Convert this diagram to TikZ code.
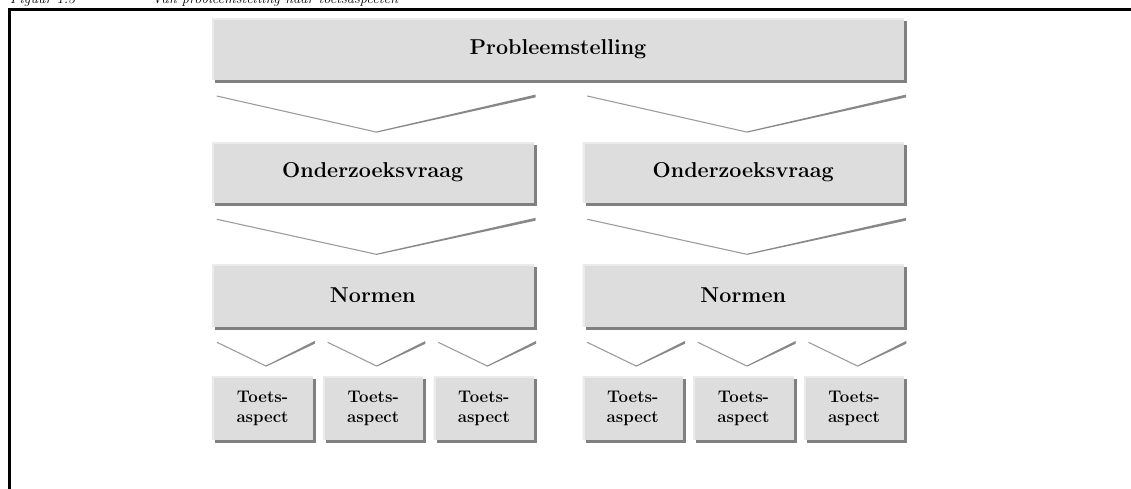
\documentclass[tikz,border=0pt]{standalone}
\usepackage{fontspec}
\usetikzlibrary{calc}

\definecolor{boxfill}{HTML}{DDDDDD}
\definecolor{boxshade}{HTML}{808080}
\definecolor{boxlight}{HTML}{EBEBEB}
\definecolor{armlight}{HTML}{9C9C9C}
\definecolor{armdark}{HTML}{888888}

\tikzset{
  stepbox/.style={rectangle, fill=boxfill, inner sep=0pt, outer sep=0pt, text=black,
    align=center,
    preaction={fill=boxshade, transform canvas={shift={(3pt,-3pt)}}},
    path picture={\draw[boxlight, line width=4pt]
      (path picture bounding box.south west) |- (path picture bounding box.north east);}},
  widebox/.style={stepbox, font=\fontsize{21.5}{24}\selectfont\bfseries},
  smallbox/.style={stepbox, minimum width=100.5pt, minimum height=64pt,
    font=\fontsize{16.8}{20}\selectfont\bfseries},
  armthin/.style={armlight, line width=1.1pt},
  armthick/.style={armdark},
  captext/.style={anchor=base west, inner sep=0pt, font=\fontsize{14.5}{16}\selectfont\itshape},
}

% chevron above a target node: #1 name, #2 target, #3 rise of the arms above it, #4 depth
\newcommand\chevron[4]{%
  \coordinate (#1l) at ($(#2.north west)+(4.7,-#3)$);
  \coordinate (#1r) at ($(#2.north east)+(2,-#3)$);
  \coordinate (#1v) at ($(#1l)!0.5!(#1r)+(0,#4)$);
  \draw[armthin] (#1l) -- (#1v);
  \fill[armthick] ($(#1v)+(0,-0.4)$) -- ($(#1r)+(0,-1.4)$) -- ($(#1r)+(0,1.4)$) -- ($(#1v)+(0,0.7)$) -- cycle;
}

\begin{document}
\begin{tikzpicture}[x=1pt, y=-1pt]
  \useasboundingbox (0,0) rectangle (1131,488);
  \clip (0,0) rectangle (1131,488);

  % caption line above the frame
  \node[captext] (capa) at (10,3) {Figuur 1.3};
  \node[captext] (capb) at (152,3) {Van probleemstelling naar toetsaspecten};

  % frame
  \draw[line width=2.4pt] (9.5,490) -- (9.5,9.5) -- (1135,9.5);

  % top level
  \node[widebox, minimum width=692pt, minimum height=62pt] (prob) at (558,49) {Probleemstelling};

  % research questions
  \node[widebox, minimum width=321.5pt, minimum height=61pt] (oz1) at (372.75,172.5) {Onderzoeksvraag};
  \node[widebox, minimum width=321.5pt, minimum height=61pt] (oz2) at (743.25,172.5) {Onderzoeksvraag};

  % norms
  \node[widebox, minimum width=321.5pt, minimum height=62.5pt] (nm1) at (372.75,295.5) {Normen};
  \node[widebox, minimum width=321.5pt, minimum height=62.5pt] (nm2) at (743.25,295.5) {Normen};

  % test aspects
  \node[smallbox] (t1) at (262.55,408) {Toets-\\aspect};
  \node[smallbox] (t2) at (373.2,408)  {Toets-\\aspect};
  \node[smallbox] (t3) at (483.85,408) {Toets-\\aspect};
  \node[smallbox] (t4) at (632.75,408) {Toets-\\aspect};
  \node[smallbox] (t5) at (743.4,408)  {Toets-\\aspect};
  \node[smallbox] (t6) at (854.05,408) {Toets-\\aspect};

  % chevrons between the levels
  \chevron{ka}{oz1}{46}{36}
  \chevron{kb}{oz2}{46}{36}
  \chevron{kc}{nm1}{45}{35}
  \chevron{kd}{nm2}{45}{35}
  \chevron{ke}{t1}{33.7}{23.7}
  \chevron{kf}{t2}{33.7}{23.7}
  \chevron{kg}{t3}{33.7}{23.7}
  \chevron{kh}{t4}{33.7}{23.7}
  \chevron{ki}{t5}{33.7}{23.7}
  \chevron{kj}{t6}{33.7}{23.7}
\end{tikzpicture}
\end{document}
